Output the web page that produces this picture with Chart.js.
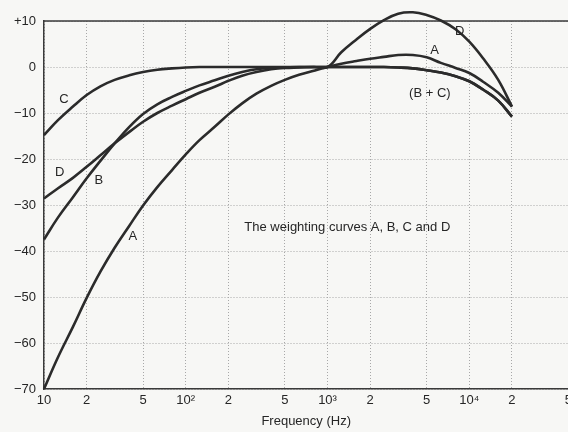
<!DOCTYPE html>
<html>
<head>
<meta charset="utf-8">
<script src="https://cdn.jsdelivr.net/npm/chart.js@4.4.1/dist/chart.umd.min.js"></script>
<style>
  html, body { margin: 0; padding: 0; overflow: hidden; background: #f7f7f5; }
  #wrap { width: 576px; height: 432px; }
</style>
</head>
<body>
<div id="wrap"><canvas id="weightChart" width="576" height="432"></canvas></div>
<script>
// frequencies (Hz) the curves were read at
const freqs = [10, 12.5, 16, 20, 25, 31.5, 40, 50, 63, 80, 100, 125, 160, 200, 250, 315, 400, 500, 630, 800,
    1000, 1250, 1600, 2000, 2500, 3150, 4000, 5000, 6300, 8000, 10000, 12500, 16000, 20000];

// relative response (dB)
const curveA = [-70, -63.2, -56.5, -50.2, -44.5, -39.3, -34.5, -30.1, -26.1, -22.4, -19.0, -15.9, -13.0, -10.3, -7.9, -5.8, -4.1, -2.8, -1.7, -0.8,
    0, 0.7, 1.3, 1.8, 2.2, 2.6, 2.6, 2.1, 0.9, -0.2, -1.3, -3.2, -5.6, -8.6];
const curveB = [-37.5, -32.8, -28.3, -24.2, -20.4, -16.6, -13.0, -10.2, -8.1, -6.5, -5.2, -4.0, -2.9, -1.9, -1.1, -0.5, -0.2, -0.1, 0, 0,
    0, 0, 0, 0, 0, -0.1, -0.3, -0.7, -1.2, -2.0, -3.1, -4.9, -7.3, -10.8];
const curveC = [-14.8, -11.6, -8.6, -6.1, -4.2, -2.8, -1.8, -1.1, -0.6, -0.3, -0.1, 0, 0, 0, 0, 0, 0, 0, 0, 0,
    0, 0, 0, 0, 0, -0.1, -0.3, -0.7, -1.2, -2.0, -3.1, -4.9, -7.3, -10.8];
const curveD = [-28.6, -26.4, -24.1, -21.7, -19.2, -16.6, -14.1, -11.9, -10.0, -8.4, -7.0, -5.6, -4.3, -3.0, -1.9, -1.1, -0.5, -0.2, -0.1, 0,
    0, 3.2, 6.0, 8.3, 10.2, 11.6, 11.9, 11.3, 10.1, 8.2, 5.5, 1.9, -2.8, -8.6];

const xTicks = [10, 20, 50, 100, 200, 500, 1000, 2000, 5000, 10000, 20000, 50000];
const xTickLabels = ["10", "2", "5", "10\u00B2", "2", "5", "10\u00B3", "2", "5", "10\u2074", "2", "5"];

// text written on the plot, placed in data units (Hz, dB)
const curveLabels = [
    { text: "C", f: 13.8, db: -7.0 },
    { text: "D", f: 12.9, db: -22.9 },
    { text: "B", f: 24.4, db: -24.7 },
    { text: "A", f: 42.3, db: -36.9 },
    { text: "A", f: 5700, db: 3.7 },
    { text: "D", f: 8550, db: 7.8 },
    { text: "(B + C)", f: 5270, db: -5.7 },
    { text: "The weighting curves A, B, C and D", f: 259, db: -34.9, align: "left" }
];

const FONT = "'Liberation Sans', Arial, Helvetica, sans-serif";
const INK = "#262626";

const labelPlugin = {
    id: "curveLabels",
    beforeDatasetsDraw(chart) {
        // the +10 line is drawn solid, like a frame edge
        const { ctx, chartArea } = chart;
        ctx.save();
        ctx.strokeStyle = "#3a3a3a";
        ctx.lineWidth = 1.5;
        ctx.beginPath();
        ctx.moveTo(chartArea.left, chartArea.top);
        ctx.lineTo(chartArea.right, chartArea.top);
        ctx.stroke();
        ctx.restore();
    },
    afterDatasetsDraw(chart) {
        const { ctx, scales } = chart;
        ctx.save();
        ctx.font = "13px " + FONT;
        ctx.fillStyle = INK;
        ctx.textBaseline = "middle";
        curveLabels.forEach(l => {
            ctx.textAlign = l.align || "center";
            ctx.fillText(l.text, scales.x.getPixelForValue(l.f), scales.y.getPixelForValue(l.db));
        });
        ctx.restore();
    }
};

function makeSet(label, values) {
    return {
        label: label,
        data: freqs.map((f, i) => ({ x: f, y: values[i] })),
        borderColor: "#2b2b2b",
        borderWidth: 2.6,
        pointRadius: 0,
        fill: false,
        tension: 0.4,
        clip: false
    };
}

const ctx = document.getElementById("weightChart").getContext("2d");

new Chart(ctx, {
    type: "line",
    data: {
        datasets: [
            makeSet("A", curveA),
            makeSet("B", curveB),
            makeSet("C", curveC),
            makeSet("D", curveD)
        ]
    },
    options: {
        responsive: false,
        animation: false,
        layout: { padding: { top: 21, right: 5, left: 0, bottom: 0 } },
        plugins: {
            legend: { display: false },
            tooltip: { enabled: false }
        },
        scales: {
            x: {
                type: "logarithmic",
                min: 10,
                max: 50000,
                afterBuildTicks: scale => {
                    scale.ticks = xTicks.map(v => ({ value: v }));
                },
                afterFit: scale => { scale.height = 43; },
                ticks: {
                    autoSkip: false,
                    maxRotation: 0,
                    padding: 4,
                    color: INK,
                    font: { family: FONT, size: 13 },
                    callback: (value, index) => xTickLabels[index]
                },
                grid: { color: "#a8a8a8", lineWidth: 1, drawTicks: false },
                border: { display: true, color: "#3a3a3a", width: 1.5, dash: [1, 2] },
                title: {
                    display: true,
                    text: "Frequency (Hz)",
                    color: INK,
                    font: { family: FONT, size: 13 },
                    padding: { top: 4, bottom: 3 }
                }
            },
            y: {
                min: -70,
                max: 10,
                afterFit: scale => { scale.width = 44; },
                ticks: {
                    stepSize: 10,
                    padding: 8,
                    color: INK,
                    font: { family: FONT, size: 13 },
                    callback: v => v > 0 ? "+" + v : (v < 0 ? "\u2212" + Math.abs(v) : "0")
                },
                grid: { color: "#a8a8a8", lineWidth: 1, drawTicks: false },
                border: { display: true, color: "#3a3a3a", width: 1.5, dash: [1, 2] }
            }
        }
    },
    plugins: [labelPlugin]
});
</script>
</body>
</html>
